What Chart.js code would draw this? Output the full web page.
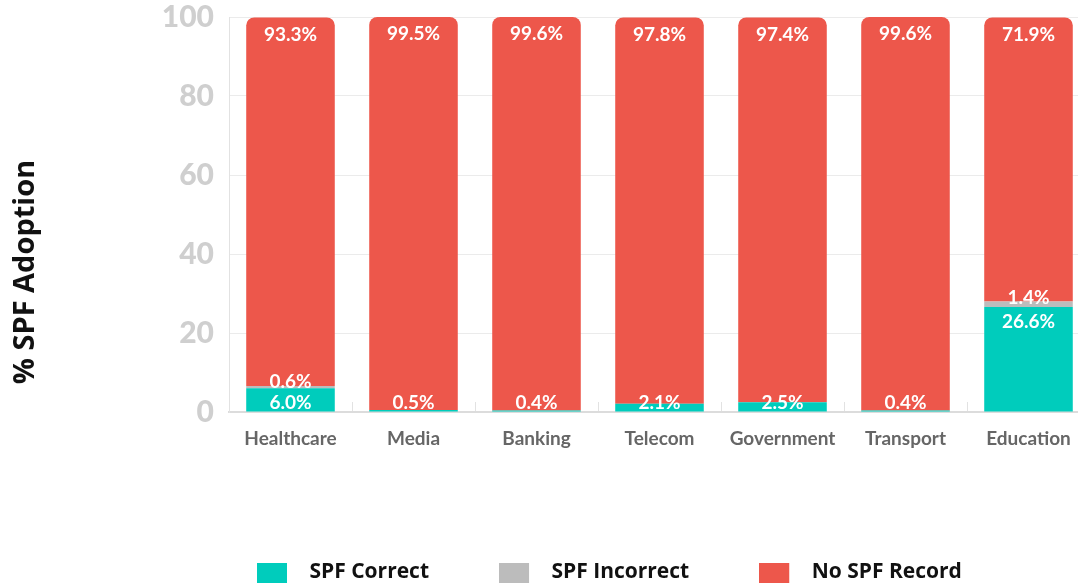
<!DOCTYPE html>
<html>
<head>
<meta charset="utf-8">
<script src="https://cdn.jsdelivr.net/npm/chart.js@4/dist/chart.umd.min.js"></script>
<style>
  html, body { margin: 0; padding: 0; overflow: hidden; background: #fff; }
  #wrap { width: 1100px; height: 593px; }
</style>
</head>
<body>
<div id="wrap"><canvas id="spfChart"></canvas></div>
<script>
const sectors = ["Healthcare", "Media", "Banking", "Telecom", "Government", "Transport", "Education"];
const spfCorrect = [6.0, 0.5, 0.4, 2.1, 2.5, 0.4, 26.6];
const spfIncorrect = [0.6, 0, 0, 0, 0, 0, 1.4];
const noSpfRecord = [93.3, 99.5, 99.6, 97.8, 97.4, 99.6, 71.9];
const yTicks = [0, 20, 40, 60, 80, 100];
const colors = ["#00CCBC", "#BCBCBC", "#ED574B"];

// legend swatch: 30x20 block with empty space after it, so the text sits further right
function swatch(color) {
  const c = document.createElement("canvas");
  c.width = 42;
  c.height = 20;
  const g = c.getContext("2d");
  g.fillStyle = color;
  g.fillRect(0, 0, 30, 20);
  return c;
}

// value labels on the bar segments
const segmentLabels = {
  id: "segmentLabels",
  afterDatasetsDraw(chart) {
    const ctx = chart.ctx;
    const bottom = chart.chartArea.bottom;
    ctx.save();
    ctx.font = "bold 19px Lato";
    ctx.fillStyle = "#ffffff";
    ctx.textAlign = "center";
    ctx.textBaseline = "middle";
    chart.data.datasets.forEach((ds, i) => {
      const meta = chart.getDatasetMeta(i);
      meta.data.forEach((bar, j) => {
        const v = ds.data[j];
        if (!v) return;
        const { x, y } = bar.getProps(["x", "y"], true);
        let ly;
        if (i === 1) ly = y - 4;
        else if (i === 2) ly = y + 17;
        else ly = Math.min(y + 15, bottom - 9);
        ctx.fillText(v.toFixed(1) + "%", x, ly);
      });
    });
    ctx.restore();
  },
};

// y axis title + legend placement
const layoutTweaks = {
  id: "layoutTweaks",
  afterLayout(chart) {
    const lg = chart.legend;
    const pad = lg.options.labels.padding;
    const cur = (lg.left + pad + lg.right - lg.lineWidths[0]) / 2;
    const shift = 257 - cur;
    lg.left += shift;
    lg.right += shift;
  },
  afterDraw(chart) {
    const ctx = chart.ctx;
    ctx.save();
    ctx.translate(26, 272);
    ctx.rotate(-Math.PI / 2);
    ctx.font = "bold 29px 'Open Sans'";
    ctx.fillStyle = "#111";
    ctx.textAlign = "center";
    ctx.textBaseline = "middle";
    ctx.fillText("% SPF Adoption", 0, 0);
    ctx.restore();
  },
};

new Chart(document.getElementById("spfChart").getContext("2d"), {
  type: "bar",
  data: {
    labels: sectors,
    datasets: [
      { label: "SPF Correct", data: spfCorrect, backgroundColor: colors[0] },
      { label: "SPF Incorrect", data: spfIncorrect, backgroundColor: colors[1] },
      {
        label: "No SPF Record",
        data: noSpfRecord,
        backgroundColor: colors[2],
        borderRadius: { topLeft: 8, topRight: 8, bottomLeft: 0, bottomRight: 0 },
        borderSkipped: "bottom",
      },
    ],
  },
  options: {
    responsive: true,
    maintainAspectRatio: false,
    animation: false,
    layout: { padding: { left: 0, right: 10, top: 17, bottom: 0 } },
    datasets: { bar: { categoryPercentage: 1, barPercentage: 0.72 } },
    plugins: {
      tooltip: { enabled: false },
      legend: {
        position: "bottom",
        labels: {
          usePointStyle: true,
          pointStyleWidth: 42,
          boxHeight: 20,
          padding: 70,
          color: "#111",
          font: { family: "'Open Sans'", size: 21, weight: "bold" },
          generateLabels(chart) {
            const items = Chart.defaults.plugins.legend.labels.generateLabels(chart);
            items.forEach((it, i) => { it.pointStyle = swatch(colors[i]); });
            return items;
          },
        },
      },
    },
    scales: {
      x: {
        stacked: true,
        afterFit: (axis) => { axis.height = 80; },
        grid: {
          offset: true,
          drawOnChartArea: false,
          tickLength: -10,
          color: "#e2e2e2",
        },
        border: { color: "#dcdcdc", width: 2 },
        ticks: {
          padding: 25,
          color: "#666",
          font: { family: "Lato", size: 19, weight: "bold" },
        },
      },
      y: {
        stacked: true,
        min: 0,
        max: 100,
        afterFit: (axis) => {
          axis.width = 229;
          axis.paddingTop = 0;
          axis.paddingBottom = 0;
        },
        afterBuildTicks: (axis) => { axis.ticks = yTicks.map((v) => ({ value: v })); },
        grid: { color: "#ebebeb", drawTicks: false },
        border: { color: "#e2e2e2" },
        ticks: {
          padding: 15,
          color: "#cfcfcf",
          font: { family: "Lato", size: 30, weight: "900" },
        },
      },
    },
  },
  plugins: [segmentLabels, layoutTweaks],
});
</script>
</body>
</html>
